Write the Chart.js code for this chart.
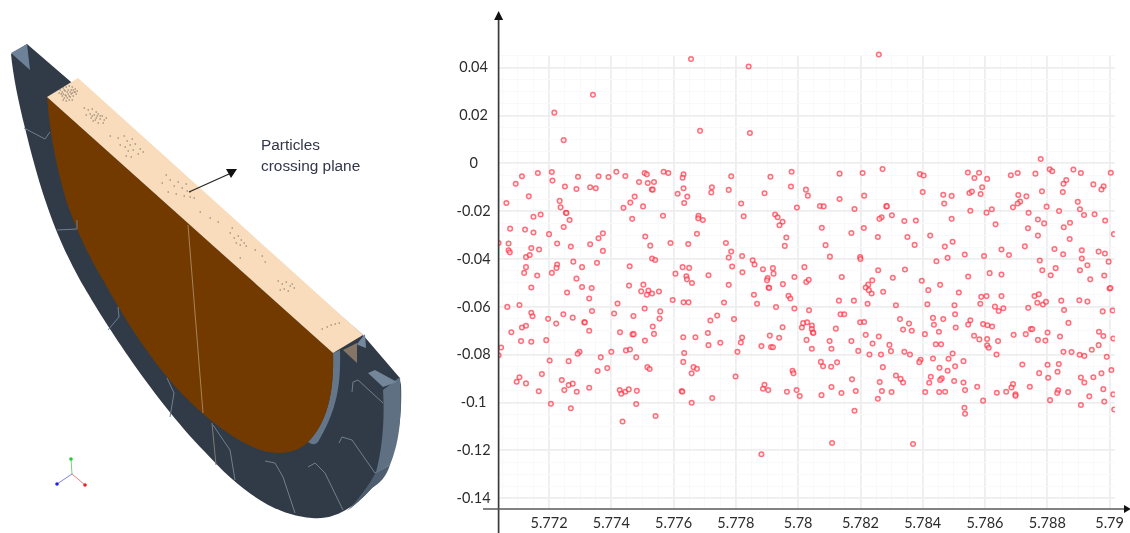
<!DOCTYPE html>
<html>
<head>
<meta charset="utf-8">
<script src="https://cdn.jsdelivr.net/npm/chart.js@4"></script>
<style>
html,body{margin:0;padding:0;background:#fff;width:1130px;height:533px;overflow:hidden}
#art{position:absolute;left:0;top:0;filter:blur(.5px)}
#c{position:absolute;left:0;top:0;filter:blur(.5px)}
</style>
</head>
<body>
<svg id="art" width="450" height="533" viewBox="0 0 450 533" xmlns="http://www.w3.org/2000/svg">
  <path d="M11,54 L27,44 L78,88 L363,335 L399,377 L401,385 C403,430 392,470 372,488 C350,512 330,520 312,518 C270,515 235,485 205,452 C150,395 100,315 80,280 C55,235 40,190 25,128 C18,100 13,75 11,54Z" fill="#313b47"/>
  <path d="M11,53 L27,44 L30,70Z" fill="#6d8199"/>
  <path d="M333,353 L340,350 C341,385 337,410 318,442 C314,446 311,444 308,442 C330,420 334,385 333,353Z" fill="#64778a"/>
  <path d="M383,390 L400,377 C403,425 397,447 390,465 L376,472 C382,450 385,420 383,390Z" fill="#5f7082"/>
  <path d="M376,472 L390,465 C386,477 380,483 372,488 C362,499 355,505 347,511 C358,500 368,487 376,472Z" fill="#4f5e6e"/>
  <path d="M368,373 L375,370 L397,382 L383,387Z" fill="#73869a"/>
  <path d="M357,344 L365,334 L366,348 L358,345Z" fill="#75899d"/>
  <path d="M47,97 L333,353 C334,385 330,420 308,442 C295,455 272,456 253,447 C225,435 190,405 167,377 C145,350 125,320 103,280 C85,250 75,225 67,203 C57,170 50,135 47,97Z" fill="#733a00"/>
  <path d="M343,350 L357,343 L357,363Z" fill="#857565"/>
  <path d="M47,97 L78,78 L363,335 L333,353Z" fill="#f8dcbc"/>
  <g fill="none" stroke="#6f7f8f" stroke-width="1">
    <path d="M24,128 L45,139 L50,132"/>
    <path d="M57,230 L77,229 L77,220"/>
    <path d="M108,330 L119,317 L118,307"/>
    <path d="M167,378 L174,393 L170,417"/>
    <path d="M213,425 L230,450 L235,480"/>
    <path d="M265,461 L275,463 L283,477 L295,513"/>
    <path d="M308,467 L315,463 L325,473 L343,510"/>
    <path d="M339,443 L342,437 L352,440 L375,473 L390,465"/>
    <path d="M352,392 L353,382 L358,380 L383,403"/>
  </g>
  <path d="M188,225 L203,413" stroke="#a5825f" stroke-width="1" fill="none"/>
  <path d="M212,423 L216,465" stroke="#7e7a70" stroke-width="1" fill="none"/>
  <path stroke="#4f4a40" stroke-width="1" stroke-linecap="round" fill="none" opacity=".8" d="M60,90h.5M63,88h.5M66,87h.5M69,86h.5M72,87h.5M75,89h.5M77,91h.5M59,93h.5M62,92h.5M65,91h.5M68,90h.5M71,90h.5M74,92h.5M76,94h.5M62,96h.5M65,95h.5M68,94h.5M71,94h.5M73,96h.5M64,98h.5M67,98h.5M70,97h.5M63,100h.5M66,101h.5M69,100h.5M72,100h.5M61,94h.5M64,90h.5M67,92h.5M70,92h.5M73,90h.5M66,96h.5M69,96h.5M72,93h.5M75,92h.5M63,94h.5M84,108h.5M88,110h.5M92,109h.5M96,112h.5M90,114h.5M94,115h.5M98,114h.5M102,116h.5M86,115h.5M91,118h.5M96,118h.5M100,119h.5M104,120h.5M93,121h.5M98,123h.5M103,123h.5M106,118h.5M95,120h.5M97,116h.5M100,116h.5M92,116h.5M118,138h.5M124,136h.5M127,141h.5M132,139h.5M120,145h.5M125,147h.5M130,145h.5M135,144h.5M140,149h.5M128,151h.5M133,150h.5M138,154h.5M143,152h.5M126,156h.5M131,157h.5M110,136h.5M162,183h.5M166,175h.5M170,180h.5M174,186h.5M178,182h.5M182,188h.5M186,184h.5M190,192h.5M194,198h.5M168,192h.5M176,194h.5M184,196h.5M187,191h.5M190,197h.5M200,212h.5M210,218h.5M218,222h.5M230,233h.5M234,238h.5M238,236h.5M241,240h.5M244,243h.5M246,246h.5M236,243h.5M240,245h.5M232,228h.5M255,250h.5M262,256h.5M240,258h.5M265,262h.5M278,281h.5M282,284h.5M286,282h.5M290,286h.5M294,288h.5M284,289h.5M288,291h.5M292,284h.5M280,290h.5M322,329h.5M327,327h.5M331,325h.5M335,324h.5M339,323h.5"/>
  <path d="M189,192 L229,174" stroke="#222" stroke-width="1.2" fill="none"/>
  <path d="M237,169 L226,169 L231,178Z" fill="#111"/>
  <text x="261" y="150" font-family="Liberation Sans" font-size="15.4" fill="#33364a">Particles</text>
  <text x="261" y="171" font-family="Liberation Sans" font-size="15.4" fill="#33364a">crossing plane</text>
  <path d="M72,474 L71,459" stroke="#7ccf7c" stroke-width="1"/>
  <path d="M72,474 L85,485" stroke="#e08080" stroke-width="1"/>
  <path d="M72,474 L57,484" stroke="#8080e0" stroke-width="1"/>
  <circle cx="71" cy="459" r="1.8" fill="#22cc33"/>
  <circle cx="85" cy="485" r="1.8" fill="#ee2222"/>
  <circle cx="57" cy="484" r="1.8" fill="#2222ee"/>
</svg>
<canvas id="c" width="1130" height="533"></canvas>
<script>
const xTickLabels = ["5.772","5.774","5.776","5.778","5.78","5.782","5.784","5.786","5.788","5.79"];
const yTickLabels = ["0.04","0.02","0","-0.02","-0.04","-0.06","-0.08","-0.1","-0.12","-0.14"];

const upperLeftPoints = [
[5.77656,.0436],[5.77841,.0405],[5.77341,.0287],[5.77217,.0212],[5.77685,.0136],[5.77845,.0127],[5.77247,.0097],
[5.77113,-.0054],[5.77093,-.0085],[5.77164,-.0040],[5.77209,-.0036],[5.77211,-.0072],[5.77251,-.0097],[5.77288,-.0107],
[5.77293,-.0056],[5.77332,-.0100],[5.77350,-.0104],[5.77359,-.0054],[5.77391,-.0057],[5.77416,-.0035],[5.77445,-.0053],
[5.77507,-.0040],[5.77514,-.0046],[5.77489,-.0078],[5.77517,-.0082],[5.77537,-.0078],[5.77530,-.0109],[5.77533,-.0110],
[5.77568,-.0035],[5.77583,-.0040],[5.77632,-.0046],[5.77629,-.0060],[5.77632,-.0104],[5.77613,-.0127],[5.77644,-.0139],
[5.77634,-.0166],[5.77723,-.0100],[5.77721,-.0122],[5.77785,-.0054],[5.77777,-.0111],[5.77911,-.0056],[5.77979,-.0035],
[5.77977,-.0097],[5.77892,-.0125],[5.77817,-.0168],[5.77825,-.0221],[5.77926,-.0214],[5.77934,-.0225],[5.77950,-.0244],
[5.77940,-.0259],[5.77962,-.0310],[5.77957,-.0345],[5.77135,-.0138],[5.77063,-.0166],[5.77234,-.0157],[5.77237,-.0184],
[5.77254,-.0207],[5.77256,-.0208],[5.77266,-.0237],[5.77247,-.0266],[5.77173,-.0214],[5.77150,-.0223],[5.77075,-.0273],
[5.77123,-.0277],[5.77150,-.0289],[5.77200,-.0296],[5.77226,-.0335],[5.77270,-.0348],[5.77332,-.0338],[5.77359,-.0313],
[5.77373,-.0292],[5.77373,-.0366],[5.77439,-.0186],[5.77461,-.0164],[5.77475,-.0139],[5.77502,-.0180],[5.77467,-.0232],
[5.77566,-.0219],[5.77509,-.0306],[5.77525,-.0344],[5.77590,-.0333],[5.77647,-.0337],[5.77675,-.0294],[5.77680,-.0219],
[5.77679,-.0230],[5.77694,-.0237],[5.77768,-.0333],[5.77785,-.0369],[5.77777,-.0394],[5.77820,-.0387],[5.77854,-.0405],
[5.77860,-.0423],[5.77788,-.0431],[5.77531,-.0398],[5.77541,-.0404],[5.77459,-.0430],[5.77354,-.0416],[5.77306,-.0434],
[5.77278,-.0411],[5.77226,-.0423],[5.77126,-.0392],[5.77138,-.0383],[5.77143,-.0354],[5.77168,-.0360],[5.77070,-.0335],
[5.77070,-.0363],[5.77074,-.0372],[5.77038,-.0333],[5.77126,-.0434],[5.77629,-.0434],[5.77650,-.0437],[5.77887,-.0443],
[5.77919,-.0438]
];

const upperRightPoints = [
[5.78259,.0455],[5.78779,.0018],[5.78133,-.0043],[5.78207,-.0040],[5.78271,-.0024],[5.78391,-.0045],[5.78403,-.0051],
[5.78545,-.0038],[5.78566,-.0061],[5.78581,-.0039],[5.78607,-.0065],[5.78683,-.0050],[5.78705,-.0040],[5.78762,-.0043],
[5.78808,-.0025],[5.78816,-.0033],[5.78884,-.0026],[5.78908,-.0040],[5.79004,-.0039],[5.78861,-.0070],[5.78852,-.0085],
[5.78948,-.0088],[5.78981,-.0096],[5.78974,-.0109],[5.78025,-.0110],[5.78031,-.0135],[5.77996,-.0185],[5.78133,-.0149],
[5.78212,-.0135],[5.78070,-.0178],[5.78082,-.0180],[5.78181,-.0191],[5.78283,-.0180],[5.78285,-.0179],[5.78301,-.0217],
[5.78268,-.0225],[5.78261,-.0232],[5.78341,-.0241],[5.78378,-.0239],[5.78400,-.0120],[5.78466,-.0131],[5.78493,-.0136],
[5.78469,-.0168],[5.78550,-.0124],[5.78558,-.0118],[5.78591,-.0100],[5.78586,-.0128],[5.78553,-.0198],[5.78605,-.0206],
[5.78622,-.0192],[5.78493,-.0232],[5.78634,-.0255],[5.78707,-.0132],[5.78733,-.0138],[5.78713,-.0160],[5.78705,-.0168],
[5.78690,-.0184],[5.78783,-.0117],[5.78850,-.0120],[5.78740,-.0207],[5.78798,-.0181],[5.78838,-.0199],[5.78898,-.0161],
[5.78905,-.0192],[5.78918,-.0216],[5.78952,-.0213],[5.78986,-.0239],[5.78770,-.0235],[5.78790,-.0251],[5.78873,-.0248],
[5.78853,-.0267],[5.78738,-.0271],[5.78770,-.0302],[5.78872,-.0316],[5.79014,-.0296],[5.78076,-.0269],[5.78211,-.0270],
[5.78171,-.0291],[5.78256,-.0308],[5.78351,-.0308],[5.78424,-.0302],[5.78088,-.0342],[5.78374,-.0341],[5.78496,-.0328],
[5.78471,-.0348],[5.78653,-.0360],[5.78728,-.0347],[5.78823,-.0358],[5.78851,-.0380],[5.78911,-.0363],[5.78965,-.0369],
[5.78985,-.0377],[5.78102,-.0390],[5.78199,-.0392],[5.78200,-.0400],[5.78480,-.0395],[5.78535,-.0381],[5.78597,-.0387],
[5.78677,-.0383],[5.78444,-.0409],[5.78776,-.0406],[5.78911,-.0398],[5.78997,-.0411],[5.78929,-.0426],[5.78020,-.0434],
[5.78827,-.0438],[5.78257,-.0447],[5.78343,-.0444],[5.78784,-.0447],[5.78905,-.0447]
];

const lowerLeftPoints = [
[5.77224,-.0437],[5.77120,-.0458],[5.77162,-.0469],[5.77209,-.0458],[5.77288,-.0482],[5.77143,-.0519],[5.77258,-.0540],
[5.77306,-.0517],[5.77337,-.0521],[5.77329,-.0565],[5.77457,-.0511],[5.77503,-.0507],[5.77496,-.0535],[5.77519,-.0532],
[5.77514,-.0549],[5.77531,-.0544],[5.77553,-.0536],[5.77606,-.0461],[5.77641,-.0472],[5.77643,-.0485],[5.77659,-.0500],
[5.77712,-.0468],[5.77777,-.0508],[5.77821,-.0455],[5.77902,-.0479],[5.77900,-.0489],[5.77905,-.0519],[5.77907,-.0521],
[5.77921,-.0461],[5.77951,-.0505],[5.77988,-.0475],[5.77858,-.0549],[5.77868,-.0587],[5.77969,-.0554],[5.77975,-.0565],
[5.77929,-.0601],[5.77597,-.0571],[5.77632,-.0581],[5.77648,-.0581],[5.77762,-.0582],[5.77066,-.0600],[5.77105,-.0592],
[5.77143,-.0625],[5.77147,-.0639],[5.77197,-.0650],[5.77246,-.0631],[5.77276,-.0645],[5.77223,-.0670],[5.77313,-.0664],
[5.77315,-.0665],[5.77338,-.0617],[5.77420,-.0586],[5.77409,-.0628],[5.77471,-.0638],[5.77507,-.0607],[5.77557,-.0619],
[5.77555,-.0649],[5.77533,-.0682],[5.77537,-.0713],[5.77718,-.0657],[5.77740,-.0636],[5.77794,-.0651],[5.77950,-.0685],
[5.77988,-.0607],[5.77079,-.0706],[5.77113,-.0686],[5.77126,-.0679],[5.77110,-.0743],[5.77143,-.0746],[5.77191,-.0739],
[5.77329,-.0700],[5.77428,-.0706],[5.77468,-.0715],[5.77472,-.0714],[5.77508,-.0741],[5.77631,-.0727],[5.77670,-.0727],
[5.77710,-.0709],[5.77712,-.0760],[5.77750,-.0750],[5.77820,-.0728],[5.77816,-.0749],[5.77882,-.0764],[5.77909,-.0720],
[5.77939,-.0729],[5.77913,-.0768],[5.77919,-.0769],[5.77046,-.0770],[5.77038,-.0802],[5.77202,-.0824],[5.77263,-.0827],
[5.77298,-.0788],[5.77292,-.0796],[5.77366,-.0811],[5.77400,-.0788],[5.77447,-.0782],[5.77460,-.0778],[5.77480,-.0811],
[5.77634,-.0793],[5.77631,-.0830],[5.77805,-.0788],[5.77356,-.0868],[5.77387,-.0856],[5.77516,-.0852],[5.77523,-.0860],
[5.77664,-.0852],[5.77675,-.0859],[5.77658,-.0878],[5.77799,-.0891],[5.77982,-.0867],[5.77985,-.0878],[5.77177,-.0881],
[5.77105,-.0894],[5.77096,-.0913],[5.77126,-.0920],[5.77241,-.0906],[5.77263,-.0927],[5.77276,-.0921],[5.77249,-.0948],
[5.77289,-.0955],[5.77329,-.0938],[5.77167,-.0953],[5.77206,-.1005],[5.77270,-.1024],[5.77427,-.0948],[5.77432,-.0963],
[5.77445,-.0955],[5.77456,-.0945],[5.77482,-.0951],[5.77480,-.1006],[5.77436,-.1079],[5.77542,-.1056],[5.77626,-.0952],
[5.77628,-.0955],[5.77658,-.1001],[5.77724,-.0981],[5.77892,-.0926],[5.77887,-.0942],[5.77904,-.0948],[5.77964,-.0955],
[5.77882,-.1216]
];

const lowerRightPoints = [
[5.78140,-.0475],[5.78397,-.0491],[5.78456,-.0508],[5.78546,-.0473],[5.78615,-.0459],[5.78653,-.0465],[5.78811,-.0468],
[5.78938,-.0485],[5.78983,-.0469],[5.78026,-.0496],[5.78034,-.0487],[5.78304,-.0478],[5.78238,-.0489],[5.78225,-.0507],
[5.78217,-.0519],[5.78227,-.0530],[5.78236,-.0544],[5.78273,-.0537],[5.78418,-.0530],[5.78516,-.0540],[5.79000,-.0523],
[5.79003,-.0521],[5.78131,-.0574],[5.78179,-.0574],[5.78223,-.0587],[5.78314,-.0593],[5.78415,-.0589],[5.78502,-.0593],
[5.78588,-.0558],[5.78605,-.0555],[5.78585,-.0587],[5.78653,-.0555],[5.78632,-.0599],[5.78644,-.0617],[5.78659,-.0606],
[5.78739,-.0604],[5.78759,-.0555],[5.78773,-.0547],[5.78768,-.0583],[5.78786,-.0590],[5.78796,-.0579],[5.78845,-.0574],
[5.78854,-.0613],[5.78903,-.0572],[5.78929,-.0578],[5.78978,-.0619],[5.79010,-.0615],[5.78035,-.0614],[5.78136,-.0631],
[5.78148,-.0631],[5.78327,-.0651],[5.78356,-.0670],[5.78337,-.0695],[5.78365,-.0700],[5.78433,-.0646],[5.78466,-.0651],
[5.78436,-.0675],[5.78504,-.0631],[5.78452,-.0704],[5.78506,-.0686],[5.78553,-.0656],[5.78546,-.0674],[5.78594,-.0672],
[5.78608,-.0677],[5.78623,-.0682],[5.78868,-.0667],[5.78016,-.0668],[5.78029,-.0664],[5.78012,-.0686],[5.78044,-.0678],
[5.78044,-.0693],[5.78047,-.0707],[5.78049,-.0709],[5.78121,-.0691],[5.78199,-.0664],[5.78212,-.0663],[5.78027,-.0738],
[5.78044,-.0775],[5.78101,-.0743],[5.78107,-.0775],[5.78171,-.0743],[5.78217,-.0717],[5.78259,-.0724],[5.78239,-.0753],
[5.78193,-.0784],[5.78229,-.0799],[5.78266,-.0799],[5.78293,-.0759],[5.78298,-.0785],[5.78341,-.0788],[5.78359,-.0799],
[5.78407,-.0714],[5.78442,-.0756],[5.78459,-.0756],[5.78565,-.0721],[5.78582,-.0736],[5.78607,-.0734],[5.78642,-.0743],
[5.78607,-.0761],[5.78612,-.0771],[5.78637,-.0799],[5.78692,-.0717],[5.78731,-.0714],[5.78747,-.0693],[5.78752,-.0693],
[5.78770,-.0738],[5.78794,-.0741],[5.78801,-.0707],[5.78841,-.0724],[5.78966,-.0704],[5.78980,-.0722],[5.78965,-.0760],
[5.78943,-.0779],[5.79012,-.0732],[5.78852,-.0788],[5.78878,-.0789],[5.78904,-.0800],[5.78919,-.0805],[5.78991,-.0809],
[5.78496,-.0795],[5.78483,-.0817],[5.78433,-.0816],[5.78393,-.0821],[5.78389,-.0831],[5.78531,-.0827],[5.78504,-.0848],
[5.78454,-.0855],[5.78480,-.0867],[5.78272,-.0852],[5.78073,-.0830],[5.78080,-.0848],[5.78106,-.0850],[5.78125,-.0832],
[5.78314,-.0887],[5.78329,-.0901],[5.78337,-.0916],[5.78426,-.0892],[5.78421,-.0917],[5.78461,-.0899],[5.78456,-.0906],
[5.78501,-.0910],[5.78531,-.0916],[5.78575,-.0934],[5.78173,-.0903],[5.78107,-.0935],[5.78262,-.0914],[5.78720,-.0841],
[5.78801,-.0842],[5.78837,-.0839],[5.78774,-.0877],[5.78833,-.0871],[5.78803,-.0896],[5.78908,-.0895],[5.78919,-.0916],
[5.78948,-.0894],[5.78974,-.0878],[5.79006,-.0864],[5.78690,-.0923],[5.78685,-.0937],[5.78668,-.0955],[5.78638,-.0959],
[5.78744,-.0934],[5.78698,-.0966],[5.78698,-.0972],[5.78536,-.0948],[5.78453,-.0956],[5.78472,-.0955],[5.78408,-.0956],
[5.78300,-.0956],[5.78269,-.0952],[5.78256,-.0984],[5.78185,-.0952],[5.78139,-.0960],[5.78075,-.0969],[5.77995,-.0948],
[5.78005,-.0973],[5.78835,-.0949],[5.78832,-.0960],[5.78867,-.0956],[5.78809,-.0990],[5.78594,-.0992],[5.78935,-.0974],
[5.78980,-.0944],[5.78983,-.0996],[5.78908,-.1010],[5.79012,-.0966],[5.79015,-.1029],[5.78181,-.1034],[5.78534,-.1022],
[5.78536,-.1047],[5.78109,-.1169],[5.78369,-.1173]
];

const allPoints = [...upperLeftPoints, ...upperRightPoints, ...lowerLeftPoints, ...lowerRightPoints]
  .map(([x, y]) => ({x, y}));

const near = (v, list) => list.find(t => Math.abs(parseFloat(t) - v) < 1e-7);

const axisArrows = {
  id: 'axisArrows',
  afterDraw(chart) {
    const {ctx, chartArea: a} = chart;
    ctx.save();
    ctx.lineWidth = 1.7;
    ctx.strokeStyle = '#3a3a3a';
    ctx.beginPath(); ctx.moveTo(a.left, 18); ctx.lineTo(a.left, 533); ctx.stroke();
    ctx.strokeStyle = '#585858';
    ctx.beginPath(); ctx.moveTo(483, a.bottom); ctx.lineTo(1126, a.bottom); ctx.stroke();
    ctx.fillStyle = '#111';
    ctx.beginPath(); ctx.moveTo(a.left, 11); ctx.lineTo(a.left - 4.5, 20); ctx.lineTo(a.left + 4.5, 20); ctx.closePath(); ctx.fill();
    ctx.beginPath(); ctx.moveTo(1131, a.bottom); ctx.lineTo(1124, a.bottom - 4); ctx.lineTo(1124, a.bottom + 4); ctx.closePath(); ctx.fill();
    ctx.restore();
  }
};

new Chart(document.getElementById('c'), {
  type: 'scatter',
  data: {datasets: [{
    data: allPoints,
    clip: {left: 0, top: 6, right: 0, bottom: 0},
    pointRadius: 2.3,
    borderWidth: 1.5,
    borderColor: 'rgba(255,40,60,.66)',
    backgroundColor: 'rgba(255,225,225,.5)'
  }]},
  plugins: [axisArrows],
  options: {
    responsive: false,
    animation: false,
    devicePixelRatio: 1,
    layout: {padding: {top: 55, right: 15, left: 0, bottom: 0}},
    plugins: {legend: {display: false}, tooltip: {enabled: false}},
    scales: {
      x: {
        type: 'linear', min: 5.77038, max: 5.79017,
        afterFit(s) { s.height = 24; },
        border: {display: false},
        grid: {
          drawTicks: false,
          color: c => near(c.tick.value, xTickLabels) ? '#eeeeee' : '#f9f9f9',
          lineWidth: c => near(c.tick.value, xTickLabels) ? 1.8 : 1
        },
        ticks: {
          stepSize: 0.0005, includeBounds: false, autoSkip: false, maxRotation: 0, padding: 6,
          color: '#2c2c2c', font: {family: 'Lato', size: 14.5},
          callback: v => near(v, xTickLabels) || ''
        }
      },
      y: {
        type: 'linear', min: -0.1445, max: 0.0453,
        afterFit(s) { s.width = 498.6; },
        border: {display: false},
        grid: {
          drawTicks: false,
          color: c => near(c.tick.value, yTickLabels) ? '#eeeeee' : '#f9f9f9',
          lineWidth: c => near(c.tick.value, yTickLabels) ? 1.8 : 1
        },
        ticks: {
          stepSize: 0.005, includeBounds: false, autoSkip: false, padding: 8, crossAlign: 'center',
          color: '#2c2c2c', font: {family: 'Lato', size: 14.5},
          callback: v => near(v, yTickLabels) || ''
        }
      }
    }
  }
});
</script>
</body>
</html>
